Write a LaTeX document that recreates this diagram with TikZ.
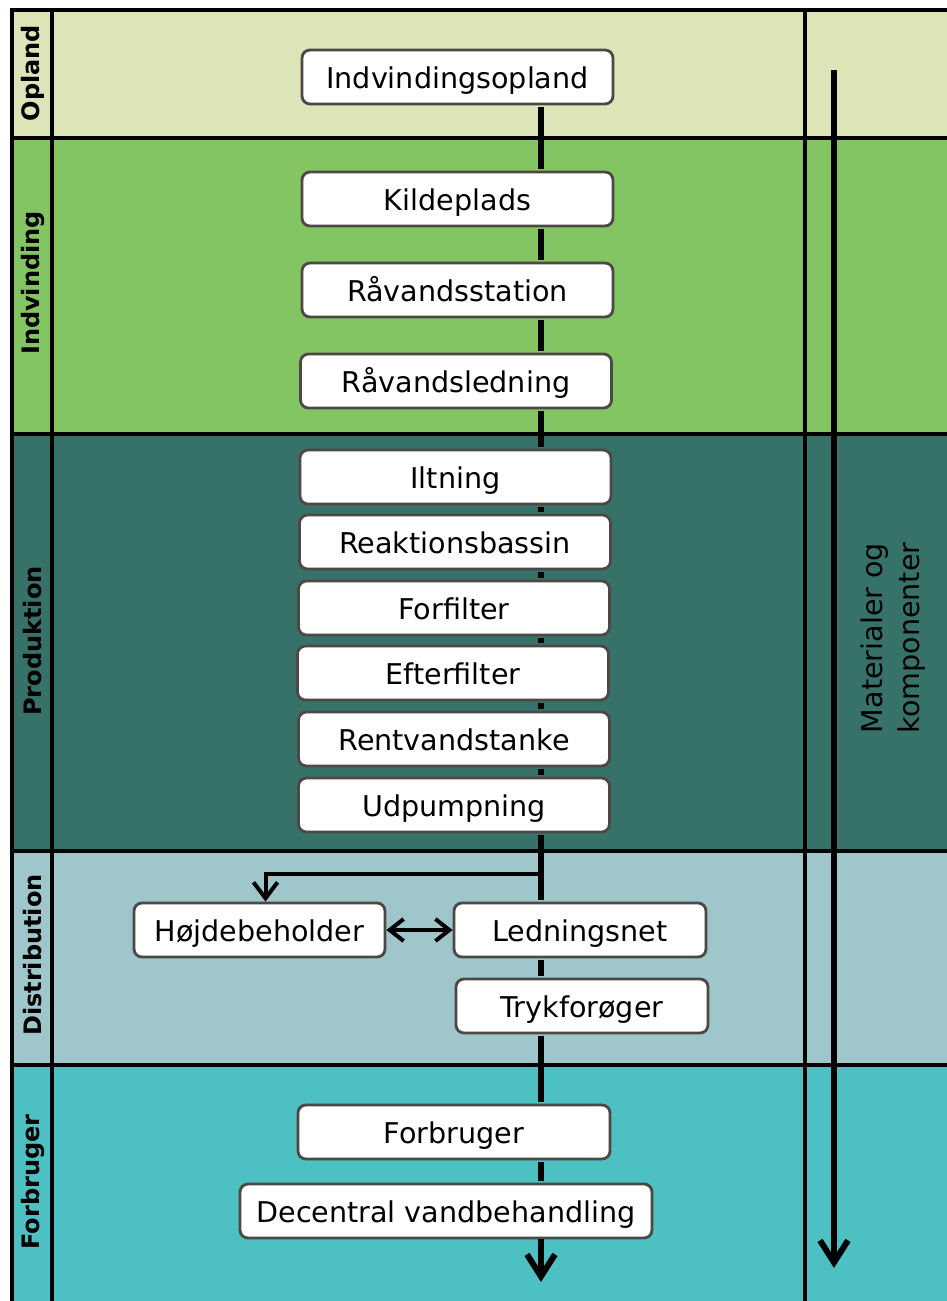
\documentclass[tikz,border=0pt]{standalone}
\usepackage{fontspec}
\setmainfont{DejaVu Sans}
\usetikzlibrary{arrows.meta}
\definecolor{oplandc}{RGB}{220,228,184}
\definecolor{indvc}{RGB}{132,197,99}
\definecolor{prodc}{RGB}{54,113,106}
\definecolor{distc}{RGB}{158,198,203}
\definecolor{forbc}{RGB}{77,192,195}
\definecolor{boxline}{RGB}{77,72,67}
\tikzset{
  boks/.style={draw=boxline,line width=1.4pt,fill=white,rounded corners=4pt,
    minimum width=155.5pt,minimum height=27pt,inner sep=0pt,
    text height=11pt,text depth=0pt,
    font=\fontsize{14.3}{16}\selectfont},
  banelabel/.style={rotate=90,font=\fontsize{12}{14}\selectfont\bfseries},
  ramme/.style={line width=2pt},
  spine/.style={line width=3pt,shorten <=0.7pt,shorten >=0.7pt},
  strom/.style={line width=3pt,-{Straight Barb[length=11pt,width=14pt]}},
  gren/.style={line width=2pt,-{Straight Barb[length=8pt,width=12pt]}},
  dobbelt/.style={line width=2pt,{Straight Barb[length=7pt,width=11pt]}-{Straight Barb[length=7pt,width=11pt]}}
}
\begin{document}
\begin{tikzpicture}[x=0.5pt,y=-0.5pt]
\useasboundingbox (0,0) rectangle (947,1301);
\clip (0,0) rectangle (947,1301);
%% lanes
\fill[oplandc] (10,10) rectangle (960,138);
\fill[indvc] (10,138) rectangle (960,434);
\fill[prodc] (10,434) rectangle (960,851);
\fill[distc] (10,851) rectangle (960,1065);
\fill[forbc] (10,1065) rectangle (960,1320);
%% grid lines
\foreach \yy in {10,138,434,851,1065}
  \draw[ramme] (10,\yy)--(960,\yy);
\foreach \xx in {12,52,805}
  \draw[ramme] (\xx,10)--(\xx,1320);
%% lane labels
\node[banelabel] (lopland) at (33,73) {Opland};
\node[banelabel] (lindv) at (33,283) {Indvinding};
\node[banelabel] (lprod) at (33,641) {Produktion};
\node[banelabel] (ldist) at (33,955) {Distribution};
\node[banelabel] (lforb) at (33,1182) {Forbruger};
%% boxes
\node[boks] (opland) at (457.5,77) {Indvindingsopland};
\node[boks] (kilde) at (457.5,199) {Kildeplads};
\node[boks] (raastat) at (457.5,290) {Råvandsstation};
\node[boks] (raaled) at (456,381) {Råvandsledning};
\node[boks] (iltning) at (455.5,477) {Iltning};
\node[boks] (reakt) at (455,542) {Reaktionsbassin};
\node[boks] (forfilt) at (454,608) {Forfilter};
\node[boks] (efterfilt) at (453,673) {Efterfilter};
\node[boks] (rentv) at (454,739) {Rentvandstanke};
\node[boks] (udpump) at (454,805) {Udpumpning};
\node[boks,minimum width=125.5pt] (hoejde) at (259.5,930) {Højdebeholder};
\node[boks,minimum width=126pt] (ledning) at (580,930) {Ledningsnet};
\node[boks,minimum width=126pt] (tryk) at (582,1006) {Trykforøger};
\node[boks,minimum width=156pt] (forbrug) at (454,1132) {Forbruger};
\node[boks,minimum width=206pt] (decentral) at (446,1211) {Decentral vandbehandling};
%% main flow
\coordinate (akse) at (541,0);
\coordinate (slut) at (541,1282);
\coordinate (forgren) at (541,874);
\foreach \a/\b in {opland/kilde,kilde/raastat,raastat/raaled,raaled/iltning,
  iltning/reakt,reakt/forfilt,forfilt/efterfilt,efterfilt/rentv,rentv/udpump,
  udpump/ledning,ledning/tryk,tryk/forbrug,forbrug/decentral}
  \draw[spine] (\a.south -| akse)--(\b.north -| akse);
\draw[strom] (decentral.south -| akse)--(slut);
\draw[gren] (forgren) -| ([xshift=3pt]hoejde.north);
\draw[dobbelt] (hoejde.east)--(ledning.west);
%% right column
\coordinate (mtop) at (834,70);
\coordinate (mbund) at (834,1268);
\draw[strom] (mtop)--(mbund);
\node[rotate=90,align=center,font=\fontsize{14.3}{18.5}\selectfont] (materialer) at (893,638) {Materialer og\\komponenter};
\end{tikzpicture}
\end{document}
